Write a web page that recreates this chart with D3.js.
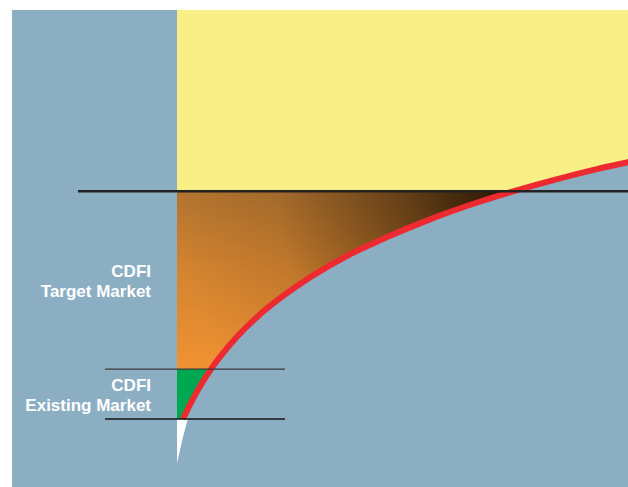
<!DOCTYPE html>
<html>
<head>
<meta charset="utf-8">
<script src="https://cdn.jsdelivr.net/npm/d3@7"></script>
<style>
  html, body { margin: 0; padding: 0; background: #fff; }
  svg { display: block; }
</style>
</head>
<body>
<svg width="628" height="487"></svg>
<script>
// market curve (abstract units)
const curveX = [1.33, 3.33, 5.54, 7.54, 9.98, 13.3, 17.7, 23.3, 29.9, 37.7, 46.6, 56.5, 67.6, 79.8, 93.1, 100, 110.9];
const curveY = [0, 4.5, 8.8, 12.2, 15.8, 20.1, 24.9, 29.9, 34.9, 39.9, 44.5, 49.0, 53.3, 57.3, 61.1, 62.8, 65.4];

// band boundaries
const bandNames = ['Target Market', 'Existing Market'];
const bandTops = [55.7, 12.2];
const bandBottoms = [12.2, 0];

// white spike under the existing market
const spikeX = [0, 2.4, 1.3, 0];
const spikeY = [0, 0, -4.5, -10.8];

const panel = { left: 12, top: 10, right: 628, bottom: 487 };

const x = d3.scaleLinear().domain([0, 100]).range([177, 628]);
const y = d3.scaleLinear().domain([0, 100]).range([419, 10]);

const svg = d3.select('svg');
const defs = svg.append('defs');

defs.append('clipPath').attr('id', 'panel')
  .append('rect')
    .attr('x', panel.left).attr('y', panel.top)
    .attr('width', panel.right - panel.left)
    .attr('height', panel.bottom - panel.top);

const base = defs.append('linearGradient')
    .attr('id', 'orangeBase')
    .attr('gradientUnits', 'userSpaceOnUse')
    .attr('x1', 0).attr('x2', 0)
    .attr('y1', y(bandBottoms[0])).attr('y2', y(bandTops[0]));
base.append('stop').attr('offset', 0).attr('stop-color', '#f09232');
base.append('stop').attr('offset', 0.55).attr('stop-color', '#d48430');
base.append('stop').attr('offset', 1).attr('stop-color', '#b27430');

const dark = defs.append('radialGradient')
    .attr('id', 'darkSpot')
    .attr('gradientUnits', 'userSpaceOnUse')
    .attr('cx', x(75)).attr('cy', y(bandTops[0]))
    .attr('r', 340);
dark.append('stop').attr('offset', 0).attr('stop-color', '#1a0d00').attr('stop-opacity', 0.95);
dark.append('stop').attr('offset', 0.3).attr('stop-color', '#1a0d00').attr('stop-opacity', 0.55);
dark.append('stop').attr('offset', 0.7).attr('stop-color', '#1a0d00').attr('stop-opacity', 0.1);
dark.append('stop').attr('offset', 1).attr('stop-color', '#1a0d00').attr('stop-opacity', 0);

const g = svg.append('g').attr('clip-path', 'url(#panel)');

// blue panel
g.append('rect')
    .attr('x', panel.left).attr('y', panel.top)
    .attr('width', panel.right - panel.left)
    .attr('height', panel.bottom - panel.top)
    .style('fill', '#8caec3');

// yellow: above the target market
g.append('rect')
    .attr('x', x(0)).attr('y', panel.top)
    .attr('width', panel.right - x(0))
    .attr('height', y(bandTops[0]) - panel.top)
    .style('fill', '#f9ef87');

// target market band
g.append('rect')
    .attr('x', x(0)).attr('y', y(bandTops[0]))
    .attr('width', panel.right - x(0))
    .attr('height', y(bandBottoms[0]) - y(bandTops[0]))
    .style('fill', 'url(#orangeBase)');
g.append('rect')
    .attr('x', x(0)).attr('y', y(bandTops[0]))
    .attr('width', panel.right - x(0))
    .attr('height', y(bandBottoms[0]) - y(bandTops[0]))
    .style('fill', 'url(#darkSpot)');

// existing market band
g.append('rect')
    .attr('x', x(0)).attr('y', y(bandTops[1]))
    .attr('width', panel.right - x(0))
    .attr('height', y(bandBottoms[1]) - y(bandTops[1]))
    .style('fill', '#00a84f');

const pts = curveX.map((d, i) => [d, curveY[i]]);

// blue below / right of the curve
g.append('path')
    .datum(pts)
    .attr('d', d3.area()
      .x(d => x(d[0]))
      .y0(panel.bottom)
      .y1(d => y(d[1]))
      .curve(d3.curveMonotoneX))
    .style('fill', '#8caec3');

// white spike
g.append('path')
    .datum(spikeX.map((d, i) => [d, spikeY[i]]))
    .attr('d', d3.line().x(d => x(d[0])).y(d => y(d[1])))
    .style('fill', '#fff');

// red curve
g.append('path')
    .datum(pts)
    .attr('d', d3.line()
      .x(d => x(d[0]))
      .y(d => y(d[1]))
      .curve(d3.curveMonotoneX))
    .style('fill', 'none')
    .style('stroke', '#ec2a30')
    .style('stroke-width', 6);

// boundary lines
g.append('line')
    .attr('x1', 78).attr('x2', panel.right)
    .attr('y1', y(bandTops[0])).attr('y2', y(bandTops[0]))
    .style('stroke', '#222')
    .style('stroke-width', 2.5);

[bandTops[1], bandBottoms[1]].forEach((v, i) => {
  g.append('line')
      .attr('x1', 105).attr('x2', 285)
      .attr('y1', y(v)).attr('y2', y(v))
      .style('stroke', i === 0 ? '#3a3a3a' : '#151515')
      .style('stroke-width', 1.3);
});

// labels
bandNames.forEach((name, i) => {
  const mid = (y(bandTops[i]) + y(bandBottoms[i])) / 2;
  const t = g.append('text')
      .attr('text-anchor', 'end')
      .style('font-family', 'Liberation Sans, Arial, sans-serif')
      .style('font-weight', 'bold')
      .style('font-size', '17px')
      .style('fill', '#fff');
  t.append('tspan').attr('x', 151).attr('y', mid - 3).text('CDFI');
  t.append('tspan').attr('x', 151).attr('y', mid + 17).text(name);
});
</script>
</body>
</html>
